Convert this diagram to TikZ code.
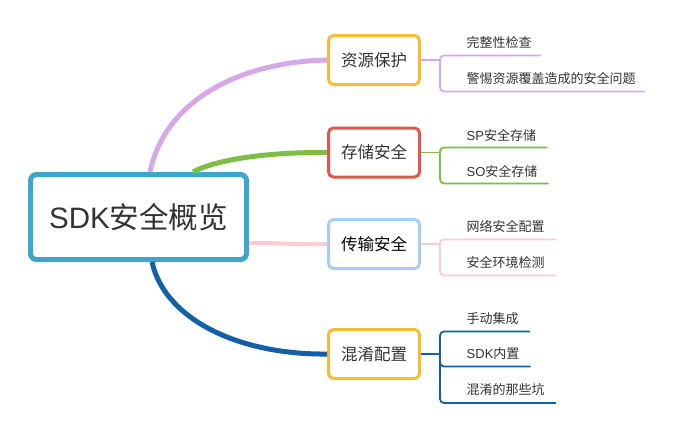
\documentclass[tikz,border=0pt]{standalone}
\usepackage{fontspec}
\setmainfont{Noto Sans CJK SC}
\newfontfamily\latinfont{Liberation Sans}
\usetikzlibrary{positioning}

\definecolor{rootblue}{HTML}{3DA6CD}
\definecolor{lilac}{HTML}{D5A9E9}
\definecolor{amber}{HTML}{F7BC35}
\definecolor{leafgreen}{HTML}{7DBF42}
\definecolor{brick}{HTML}{E0584C}
\definecolor{blush}{HTML}{FACBD1}
\definecolor{sky}{HTML}{A6CDF4}
\definecolor{navy}{HTML}{1260A8}
\definecolor{ink}{HTML}{333333}

\tikzset{
  root/.style = {draw = rootblue, line width = 5pt, rounded corners = 6pt, fill = white,
    minimum width = 216pt, minimum height = 85pt, text = ink, font = \fontsize{29.5}{31}\selectfont},
  topic/.style = {draw = #1, line width = 3pt, rounded corners = 5pt, fill = white,
    minimum width = 91pt, minimum height = 49pt, text = ink, font = \fontsize{16.5}{18}\selectfont},
  leaf/.style = {inner sep = 0pt, anchor = west, text = ink, font = \fontsize{13}{15}\selectfont},
  trunk/.style = {draw = #1, line width = 5pt},
  twig/.style = {draw = #1, line width = 1.8pt, rounded corners = 4pt},
}

\begin{document}
\begin{tikzpicture}[x = 1pt, y = -1pt]
  \useasboundingbox (0, 0) rectangle (674, 434);

  % centre and the four topics
  \node [root] (root) at (138.5, 217) {{\latinfont SDK}安全概览};
  \node [topic = amber] (res) at (374, 60) {资源保护};
  \node [topic = brick] (sto) at (374, 152.5) {存储安全};
  \node [topic = sky, text = black] (tra) at (374, 244) {传输安全};
  \node [topic = amber] (obf) at (374, 354) {混淆配置};

  % main branches
  \draw [trunk = lilac] ([shift = {(11.5, 0)}]root.north) .. controls (165, 100) and (240, 62) .. (res.west);
  \draw [trunk = leafgreen] ([shift = {(54.5, 0)}]root.north) .. controls (215, 160) and (265, 152) .. (sto.west);
  \draw [trunk = blush, line width = 4pt] ([shift = {(0, 26)}]root.east) .. controls (290, 243) and (300, 245) .. (tra.west);
  \draw [trunk = navy] ([shift = {(13.5, 0)}]root.south) .. controls (165, 320) and (240, 355) .. (obf.west);

  % leaves
  \node [leaf] (res1) at (466.5, 43) {完整性检查};
  \node [leaf] (res2) at (466.5, 79) {警惕资源覆盖造成的安全问题};
  \node [leaf] (sto1) at (466.5, 135) {{\latinfont SP}安全存储};
  \node [leaf] (sto2) at (466.5, 171) {{\latinfont SO}安全存储};
  \node [leaf] (tra1) at (466.5, 226.5) {网络安全配置};
  \node [leaf] (tra2) at (466.5, 262.5) {安全环境检测};
  \node [leaf] (obf1) at (466.5, 318.5) {手动集成};
  \node [leaf] (obf2) at (466.5, 354) {{\latinfont SDK}内置};
  \node [leaf] (obf3) at (466.5, 390) {混淆的那些坑};

  \coordinate (resj) at ([shift = {(19, 0)}]res.east);
  \coordinate (stoj) at ([shift = {(19, 0)}]sto.east);
  \coordinate (traj) at ([shift = {(19, 0)}]tra.east);
  \coordinate (obfj) at ([shift = {(19, 0)}]obf.east);

  \draw [twig = lilac] (res.east) -- (resj);
  \draw [twig = lilac] (resj) |- ([shift = {(9, 12.5)}]res1.east);
  \draw [twig = lilac] (resj) |- ([shift = {(9, 12.5)}]res2.east);
  \draw [twig = leafgreen] (sto.east) -- (stoj);
  \draw [twig = leafgreen] (stoj) |- ([shift = {(11, 12.5)}]sto1.east);
  \draw [twig = leafgreen] (stoj) |- ([shift = {(11, 12.5)}]sto2.east);
  \draw [twig = blush] (tra.east) -- (traj);
  \draw [twig = blush] (traj) |- ([shift = {(11, 13)}]tra1.east);
  \draw [twig = blush] (traj) |- ([shift = {(11, 13)}]tra2.east);
  \draw [twig = navy] (obf.east) -- (obfj);
  \draw [twig = navy] (obfj) |- ([shift = {(11, 13)}]obf1.east);
  \draw [twig = navy] (obfj) |- ([shift = {(11, 12.5)}]obf2.east);
  \draw [twig = navy] (obfj) |- ([shift = {(11, 13)}]obf3.east);
\end{tikzpicture}
\end{document}
